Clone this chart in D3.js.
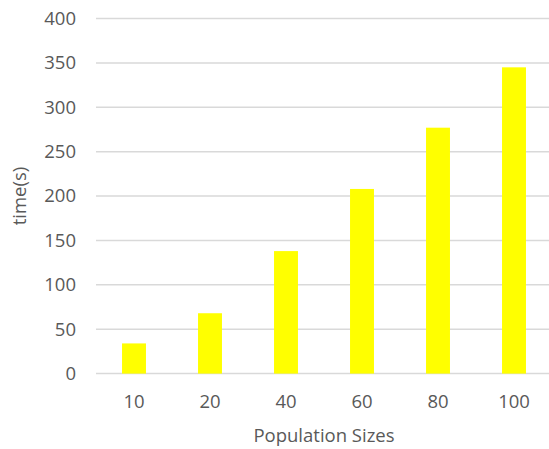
<!DOCTYPE html>
<html>
<head>
<meta charset="utf-8">
<script src="https://cdn.jsdelivr.net/npm/d3@7"></script>
<style>
  html, body { margin: 0; padding: 0; background: #fff; }
  svg text { font-family: "Open Sans", sans-serif; fill: #595959; }
</style>
</head>
<body>
<svg id="chart" width="549" height="449"></svg>
<script>
// Run time per population size
const categories = ["10", "20", "40", "60", "80", "100"];
const timeValues = [34, 68, 138, 208, 277, 345];
const yTicks = [0, 50, 100, 150, 200, 250, 300, 350, 400];
const xTitle = "Population Sizes";
const yTitle = "time(s)";

const svg = d3.select("#chart");
const plot = { left: 96, right: 552, top: 18.5, bottom: 373.6 };
const fontSize = 18.5;

const x = d3.scaleBand()
  .domain(categories)
  .range([plot.left, plot.right])
  .paddingInner(0.685)
  .paddingOuter(0.3425);

const y = d3.scaleLinear()
  .domain([0, 400])
  .range([plot.bottom, plot.top]);

// Horizontal gridlines
svg.append("g")
  .selectAll("line")
  .data(yTicks)
  .join("line")
  .attr("x1", plot.left)
  .attr("x2", plot.right)
  .attr("y1", d => y(d))
  .attr("y2", d => y(d))
  .attr("stroke", "#d9d9d9")
  .attr("stroke-width", 1.5);

// Bars
svg.append("g")
  .selectAll("rect")
  .data(categories)
  .join("rect")
  .attr("x", d => x(d))
  .attr("width", x.bandwidth())
  .attr("y", (d, i) => y(timeValues[i]))
  .attr("height", (d, i) => y(0) - y(timeValues[i]))
  .attr("fill", "#ffff00");

// Y axis labels
const yAxis = svg.append("g")
  .attr("transform", `translate(${plot.left - 20},0)`)
  .call(d3.axisLeft(y).tickValues(yTicks).tickSize(0).tickPadding(0));
yAxis.select(".domain").remove();
yAxis.selectAll("text")
  .attr("font-size", fontSize)
  .attr("font-family", "Open Sans, sans-serif")
  .attr("fill", "#595959");

// X axis labels
const xAxis = svg.append("g")
  .attr("transform", `translate(0,${plot.bottom})`)
  .call(d3.axisBottom(x).tickSize(0).tickPadding(21));
xAxis.select(".domain").remove();
xAxis.selectAll("text")
  .attr("font-size", fontSize)
  .attr("font-family", "Open Sans, sans-serif")
  .attr("fill", "#595959");

// Axis titles
svg.append("text")
  .attr("x", (plot.left + plot.right) / 2)
  .attr("y", 441.5)
  .attr("text-anchor", "middle")
  .attr("font-size", fontSize)
  .text(xTitle);

svg.append("text")
  .attr("transform", `translate(26,${(plot.top + plot.bottom) / 2}) rotate(-90)`)
  .attr("text-anchor", "middle")
  .attr("font-size", fontSize)
  .text(yTitle);
</script>
</body>
</html>
